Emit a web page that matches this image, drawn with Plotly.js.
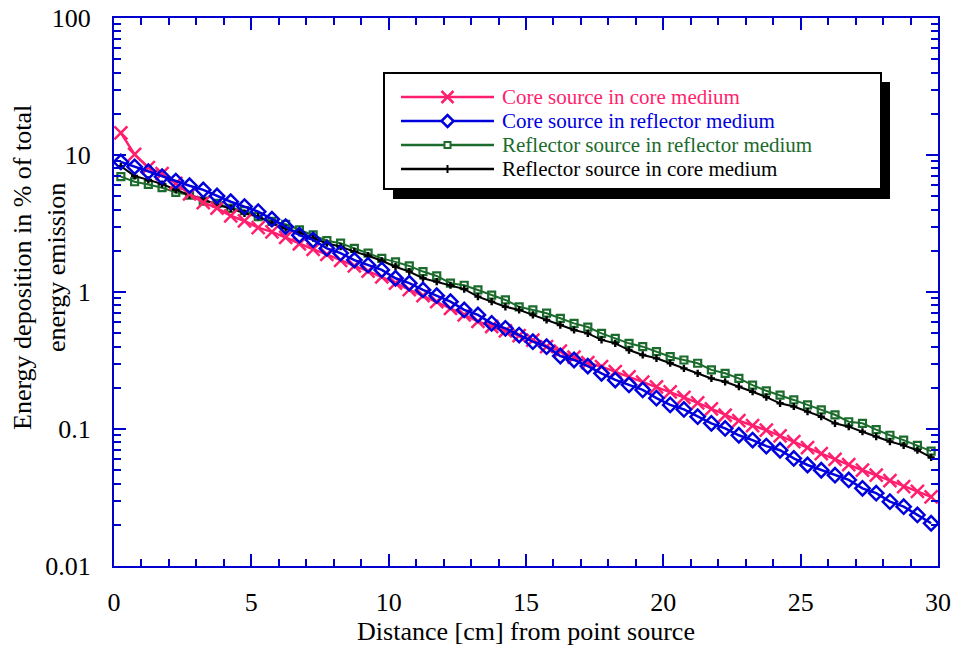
<!DOCTYPE html>
<html>
<head>
<meta charset="utf-8">
<script src="https://cdn.plot.ly/plotly-3.0.1.min.js"></script>
<style>html,body{margin:0;padding:0;background:#fff;} #chart{width:956px;height:650px;}</style>
</head>
<body>
<div id="chart"></div>
<script>
// Distance from point source [cm] (marker positions every 0.5 cm)
const distance = [0.25,0.75,1.25,1.75,2.25,2.75,3.25,3.75,4.25,4.75,5.25,5.75,6.25,6.75,7.25,7.75,8.25,8.75,9.25,9.75,
  10.25,10.75,11.25,11.75,12.25,12.75,13.25,13.75,14.25,14.75,15.25,15.75,16.25,16.75,17.25,17.75,18.25,18.75,19.25,19.75,
  20.25,20.75,21.25,21.75,22.25,22.75,23.25,23.75,24.25,24.75,25.25,25.75,26.25,26.75,27.25,27.75,28.25,28.75,29.25,29.75];

const coreInCore = [14.5,10.1,8.1,7.3,6.2,5.2,4.5,4.1,3.6,3.3,2.95,2.75,2.5,2.25,2.05,1.88,1.7,1.55,1.42,1.29,
  1.16,1.04,0.94,0.85,0.76,0.68,0.61,0.56,0.52,0.48,0.445,0.4,0.37,0.335,0.305,0.285,0.262,0.24,0.22,0.203,
  0.187,0.17,0.155,0.14,0.126,0.115,0.106,0.098,0.089,0.081,0.073,0.066,0.06,0.055,0.05,0.046,0.042,0.038,0.035,0.032];

const coreInReflector = [8.9,8.2,7.55,6.95,6.45,5.97,5.56,5.02,4.56,4.2,3.86,3.4,3.0,2.6,2.4,2.08,1.92,1.71,1.57,1.45,
  1.26,1.16,1.035,0.94,0.85,0.74,0.68,0.59,0.543,0.485,0.434,0.399,0.341,0.319,0.288,0.255,0.228,0.21,0.193,0.168,
  0.15,0.139,0.123,0.110,0.101,0.090,0.083,0.075,0.070,0.061,0.0546,0.050,0.046,0.0425,0.0369,0.034,0.0295,0.0271,0.0236,0.0205];

const reflectorInReflector = [6.95,6.38,6.1,5.77,5.34,5.1,4.61,4.44,4.08,3.93,3.55,3.28,3.12,2.84,2.61,2.37,2.27,2.08,1.92,1.76,
  1.66,1.55,1.41,1.31,1.16,1.12,1.035,0.95,0.875,0.78,0.74,0.70,0.643,0.59,0.555,0.499,0.459,0.422,0.399,0.367,
  0.337,0.319,0.302,0.27,0.255,0.234,0.209,0.19,0.177,0.163,0.15,0.138,0.127,0.113,0.110,0.099,0.090,0.083,0.076,0.069];

const reflectorInCore = [8.3,7.03,6.58,6.14,5.56,5.1,4.77,4.31,4.08,3.75,3.55,3.17,2.92,2.71,2.47,2.27,2.14,1.97,1.84,1.69,
  1.53,1.41,1.26,1.19,1.12,1.05,0.925,0.85,0.78,0.74,0.68,0.625,0.574,0.528,0.499,0.447,0.422,0.377,0.347,0.328,
  0.302,0.277,0.255,0.234,0.221,0.204,0.187,0.171,0.154,0.146,0.134,0.123,0.110,0.104,0.0955,0.088,0.081,0.076,0.070,0.062];

const seriesNames = ["Core source in core medium","Core source in reflector medium","Reflector source in reflector medium","Reflector source in core medium"];
const yTitle = "Energy deposition in % of total<br>energy emission";
const xTitle = "Distance [cm] from point source";
const yTickVals = [0.01,0.1,1,10,100];
const yTickText = ["0.01","0.1","1","10","100"];
const yMinorVals = [0.02,0.03,0.04,0.05,0.06,0.07,0.08,0.09,0.2,0.3,0.4,0.5,0.6,0.7,0.8,0.9,2,3,4,5,6,7,8,9,20,30,40,50,60,70,80,90];
const xTickVals = [0,5,10,15,20,25,30];
const xTickText = ["0","5","10","15","20","25","30"];

const PINK = "#ff1f6e", BLUE = "#0000dd", GREEN = "#1b6b2c", BLACK = "#000000", AXIS = "#0000cc";
const FONT = "Liberation Serif, Times New Roman, serif";

const traces = [
  {x: distance, y: reflectorInReflector, name: seriesNames[2], mode: "lines+markers",
   line: {color: GREEN, width: 2}, marker: {symbol: "square-open", size: 7, color: GREEN, line: {width: 2.2, color: GREEN}}},
  {x: distance, y: reflectorInCore, name: seriesNames[3], mode: "lines+markers",
   line: {color: BLACK, width: 2}, marker: {symbol: "cross", size: 6, color: BLACK}},
  {x: distance, y: coreInCore, name: seriesNames[0], mode: "lines+markers",
   line: {color: PINK, width: 2.5}, marker: {symbol: "x-thin-open", size: 13, color: PINK, line: {width: 2.5, color: PINK}}},
  {x: distance, y: coreInReflector, name: seriesNames[1], mode: "lines+markers",
   line: {color: BLUE, width: 2.5}, marker: {symbol: "diamond-open", size: 11, color: BLUE, line: {width: 2.5, color: BLUE}}}
];

// ---- hand-drawn legend (pixel layout converted to paper coordinates) ----
const PL = 114, PT = 18, PW = 824, PH = 548;
const px = v => (v - PL) / PW;
const py = v => 1 - (v - PT) / PH;
const legendColors = [PINK, BLUE, GREEN, BLACK];
const rowY = [97, 121, 145, 169];
const shapes = [
  {type: "rect", xref: "paper", yref: "paper", layer: "above", x0: px(393), x1: px(890), y0: py(199), y1: py(82),
   fillcolor: "#000", line: {width: 0}},
  {type: "rect", xref: "paper", yref: "paper", layer: "above", x0: px(384), x1: px(881), y0: py(189), y1: py(73),
   fillcolor: "#fff", line: {width: 2, color: "#000"}}
];
const markerPaths = [
  {path: "M-6,-6L6,6M-6,6L6,-6", fill: "rgba(0,0,0,0)", w: 2.5},
  {path: "M0,-6L6,0L0,6L-6,0Z", fill: "#fff", w: 2.5},
  {path: "M-3,-3L3,-3L3,3L-3,3Z", fill: "#fff", w: 2},
  {path: "M0,-4L0,4M-2,0L2,0", fill: "rgba(0,0,0,0)", w: 2}
];
const annotations = [];
for (let i = 0; i < 4; i++) {
  shapes.push({type: "line", xref: "paper", yref: "paper", layer: "above", x0: px(401), x1: px(494), y0: py(rowY[i]), y1: py(rowY[i]),
    line: {color: legendColors[i], width: 2.5}});
  shapes.push({type: "path", xref: "paper", yref: "paper", layer: "above", xsizemode: "pixel", ysizemode: "pixel",
    xanchor: px(447.5), yanchor: py(rowY[i]), path: markerPaths[i].path, fillcolor: markerPaths[i].fill,
    line: {color: legendColors[i], width: markerPaths[i].w}});
  annotations.push({xref: "paper", yref: "paper", x: px(501), y: py(rowY[i]), xanchor: "left", yanchor: "middle",
    text: seriesNames[i], showarrow: false, borderpad: 0, font: {family: FONT, size: 21, color: legendColors[i]}});
}
// y-axis title (two centred lines, rotated)
annotations.push({xref: "paper", yref: "paper", x: px(39), y: py(268), xanchor: "center", yanchor: "middle",
  textangle: -90, text: yTitle, showarrow: false, borderpad: 0, font: {family: FONT, size: 26, color: "#000"}});

const layout = {
  width: 956, height: 650,
  margin: {l: PL, r: 956 - PL - PW, t: PT, b: 650 - PT - PH},
  paper_bgcolor: "#fff", plot_bgcolor: "#fff",
  font: {family: FONT, size: 26, color: "#000"},
  showlegend: false,
  xaxis: {range: [0, 30], tickvals: xTickVals, ticktext: xTickText, ticks: "inside", ticklen: 12, tickwidth: 2, tickcolor: AXIS,
    showline: true, linecolor: AXIS, linewidth: 2, mirror: "ticks", showgrid: false, zeroline: false,
    minor: {dtick: 1, ticks: "inside", ticklen: 7, tickwidth: 2, tickcolor: AXIS, showgrid: false},
    tickfont: {family: FONT, size: 26}, ticklabelstandoff: 12,
    title: {text: xTitle, font: {family: FONT, size: 26}, standoff: 5}},
  yaxis: {type: "log", range: [-2, 2], tickvals: yTickVals, ticktext: yTickText, ticks: "inside", ticklen: 12, tickwidth: 2, tickcolor: AXIS,
    showline: true, linecolor: AXIS, linewidth: 2, mirror: "ticks", showgrid: false, zeroline: false,
    minor: {tickvals: yMinorVals, ticks: "inside", ticklen: 7, tickwidth: 2, tickcolor: AXIS, showgrid: false},
    tickfont: {family: FONT, size: 26}, ticklabelstandoff: 16},
  shapes: shapes,
  annotations: annotations
};

Plotly.newPlot("chart", traces, layout, {displayModeBar: false, staticPlot: true});
</script>
</body>
</html>
